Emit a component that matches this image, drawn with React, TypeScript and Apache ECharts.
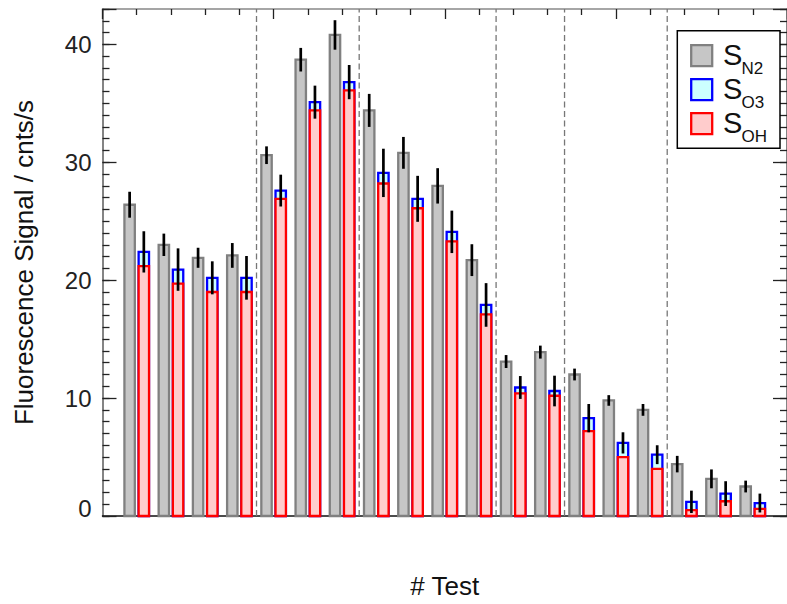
import React, { useEffect, useRef } from "react";
import * as echarts from "echarts";

// ---- data ----
const tests = [1, 2, 3, 4, 5, 6, 7, 8, 9, 10, 11, 12, 13, 14, 15, 16, 17, 18, 19];
const sN2 = [26.4, 23.0, 21.9, 22.1, 30.6, 38.7, 40.8, 34.4, 30.8, 28.0, 21.7, 13.1, 13.9, 12.0, 9.8, 9.0, 4.4, 3.15, 2.5];
const sN2Err = [1.1, 0.95, 0.85, 1.05, 0.75, 1.0, 1.25, 1.4, 1.35, 1.5, 1.35, 0.55, 0.55, 0.5, 0.45, 0.5, 0.7, 0.8, 0.5];
const sO3 = [22.4, 20.9, 20.2, 20.2, 27.6, 35.1, 36.8, 29.1, 26.9, 24.1, 17.9, 10.9, 10.6, 8.3, 6.2, 5.2, 1.2, 1.9, 1.1];
const sO3Err = [1.75, 1.8, 1.4, 1.85, 1.35, 1.4, 1.45, 2.05, 1.95, 1.8, 1.85, 0.97, 1.3, 1.2, 0.9, 0.8, 0.95, 1.05, 0.8];
const sOH = [21.2, 19.7, 19.0, 19.0, 26.9, 34.4, 36.1, 28.2, 26.1, 23.3, 17.1, 10.4, 10.2, 7.2, 5.0, 4.0, 0.5, 1.25, 0.6];
const separators = [4.5, 7.5, 11.5, 13.5, 16.5];
const xRange = [0, 20];
const yRange = [0, 43];
const legendNames = [
  { main: "S", sub: "N2" },
  { main: "S", sub: "O3" },
  { main: "S", sub: "OH" },
];

const FONT = '"Liberation Sans", Arial, Helvetica, sans-serif';
const OFF = 7.1;
const BAR_W = 10.4;
const BAR_STROKE = 2.3;

const barSeries = (name: string, values: number[], offset: number, fill: string, stroke: string) => ({
  type: "custom",
  name,
  xAxisIndex: 0,
  yAxisIndex: 0,
  data: tests.map((t, i) => [t, values[i]]),
  encode: { x: 0, y: 1 },
  z: 3,
  renderItem: (_p: any, api: any) => {
    const x = api.value(0);
    const v = api.value(1);
    const top = api.coord([x, v]);
    const base = api.coord([x, 0]);
    return {
      type: "rect",
      shape: { x: top[0] + offset - BAR_W / 2, y: top[1], width: BAR_W, height: base[1] - top[1] },
      style: { fill, stroke, lineWidth: BAR_STROKE },
    };
  },
});

const errSeries = (name: string, values: number[], errs: number[], offset: number) => ({
  type: "custom",
  name,
  xAxisIndex: 0,
  yAxisIndex: 0,
  data: tests.map((t, i) => [t, values[i], errs[i]]),
  encode: { x: 0, y: 1 },
  z: 5,
  renderItem: (_p: any, api: any) => {
    const x = api.value(0);
    const v = api.value(1);
    const e = api.value(2);
    const a = api.coord([x, v - e]);
    const b = api.coord([x, v + e]);
    return {
      type: "line",
      shape: { x1: a[0] + offset, y1: a[1], x2: b[0] + offset, y2: b[1] },
      style: { stroke: "#000", lineWidth: 2.7 },
    };
  },
});

export default function App() {
  const ref = useRef<HTMLDivElement>(null);
  useEffect(() => {
    if (!ref.current) return;
    const chart = echarts.init(ref.current, undefined, { renderer: "svg" });

    const legendGraphics: any[] = [
      {
        type: "rect",
        shape: { x: 677.3, y: 30.7, width: 102.7, height: 117.6 },
        style: { fill: "#fff", stroke: "#000", lineWidth: 1.5 },
        z: 10,
      },
    ];
    const swatch = [
      { fill: "#c6c6c6", stroke: "#808080" },
      { fill: "#ccffff", stroke: "#0000ff" },
      { fill: "#ffcccc", stroke: "#ff0000" },
    ];
    legendNames.forEach((ln, i) => {
      const dy = i * 34;
      legendGraphics.push({
        type: "rect",
        shape: { x: 691.2, y: 45.2 + dy, width: 21, height: 21 },
        style: { fill: swatch[i].fill, stroke: swatch[i].stroke, lineWidth: 2.3 },
        z: 11,
      });
      legendGraphics.push({
        type: "text",
        x: 723,
        y: 55 + dy,
        style: { text: ln.main, fontSize: 29, fontFamily: FONT, fill: "#111", verticalAlign: "middle", align: "left" },
        z: 11,
      });
      legendGraphics.push({
        type: "text",
        x: 741.5,
        y: 68 + dy,
        style: { text: ln.sub, fontSize: 17, fontFamily: FONT, fill: "#111", verticalAlign: "middle", align: "left" },
        z: 11,
      });
    });

    const noLabel = { show: false };
    const option: any = {
      animation: false,
      backgroundColor: "#fff",
      grid: { left: 102.5, top: 9, width: 692.8, height: 508.2, containLabel: false },
      xAxis: [
        {
          type: "value",
          position: "bottom",
          min: xRange[0],
          max: xRange[1],
          interval: 5,
          axisLine: { show: true, onZero: false, lineStyle: { color: "#111", width: 1.5 } },
          axisTick: { show: false },
          minorTick: { show: false },
          axisLabel: noLabel,
          splitLine: { show: false },
          name: "# Test",
          nameLocation: "middle",
          nameGap: 57,
          nameTextStyle: { fontSize: 26, fontFamily: FONT, color: "#111" },
        },
        {
          type: "value",
          position: "top",
          min: xRange[0],
          max: xRange[1],
          interval: 5,
          axisLine: { show: true, onZero: false, lineStyle: { color: "#888", width: 1.5 } },
          axisTick: { show: true, inside: true, length: 10, lineStyle: { color: "#222", width: 1.3 } },
          minorTick: { show: true, splitNumber: 5, length: 6, lineStyle: { color: "#222", width: 1.3 } },
          axisLabel: noLabel,
          splitLine: { show: false },
        },
      ],
      yAxis: [
        {
          type: "value",
          position: "left",
          min: yRange[0],
          max: yRange[1],
          interval: 1,
          axisLine: { show: true, onZero: false, lineStyle: { color: "#777", width: 1.8 } },
          axisTick: { show: true, inside: true, length: 7, lineStyle: { color: "#222", width: 1.3 } },
          axisLabel: noLabel,
          splitLine: { show: false },
        },
        {
          type: "value",
          position: "left",
          min: yRange[0],
          max: yRange[1],
          interval: 10,
          axisLine: { show: false, onZero: false },
          axisTick: { show: true, inside: true, length: 14, lineStyle: { color: "#222", width: 1.3 } },
          axisLabel: {
            show: true,
            margin: 11,
            fontSize: 24,
            fontFamily: FONT,
            color: "#222",
            formatter: (v: number) => (v === 0 ? "{z|0}" : v % 10 === 0 ? String(v) : ""),
            rich: { z: { fontSize: 24, fontFamily: FONT, color: "#222", padding: [0, 0, 16, 0] } },
          },
          splitLine: { show: false },
          name: "Fluorescence Signal / cnts/s",
          nameLocation: "middle",
          nameGap: 66,
          nameTextStyle: { fontSize: 26, fontFamily: FONT, color: "#111" },
        },
        {
          type: "value",
          position: "right",
          min: yRange[0],
          max: yRange[1],
          interval: 1,
          axisLine: { show: true, onZero: false, lineStyle: { color: "#777", width: 1.8 } },
          axisTick: { show: true, inside: true, length: 7, lineStyle: { color: "#222", width: 1.3 } },
          axisLabel: noLabel,
          splitLine: { show: false },
        },
        {
          type: "value",
          position: "right",
          min: yRange[0],
          max: yRange[1],
          interval: 10,
          axisLine: { show: false, onZero: false },
          axisTick: { show: true, inside: true, length: 14, lineStyle: { color: "#222", width: 1.3 } },
          axisLabel: noLabel,
          splitLine: { show: false },
        },
      ],
      series: [
        {
          type: "custom",
          name: "separators",
          xAxisIndex: 0,
          yAxisIndex: 0,
          data: separators.map((s) => [s]),
          encode: { x: 0 },
          z: 2,
          renderItem: (_p: any, api: any) => {
            const s = api.value(0);
            const a = api.coord([s, yRange[0]]);
            const b = api.coord([s, yRange[1]]);
            return {
              type: "line",
              shape: { x1: a[0], y1: a[1], x2: b[0], y2: b[1] },
              style: { stroke: "#777", lineWidth: 1.3, lineDash: [6, 3.5] },
            };
          },
        },
        barSeries("SN2", sN2, -OFF, "#c6c6c6", "#808080"),
        barSeries("SO3", sO3, OFF, "#ccffff", "#0000ff"),
        barSeries("SOH", sOH, OFF, "#ffcccc", "#ff0000"),
        errSeries("SN2 err", sN2, sN2Err, -OFF),
        errSeries("SO3 err", sO3, sO3Err, OFF),
      ],
      graphic: legendGraphics,
    };
    chart.setOption(option);
    return () => chart.dispose();
  }, []);
  return (
    <div
      ref={ref}
      style={{ position: "absolute", left: 0, top: 0, width: 787, height: 604, background: "#fff" }}
    />
  );
}
